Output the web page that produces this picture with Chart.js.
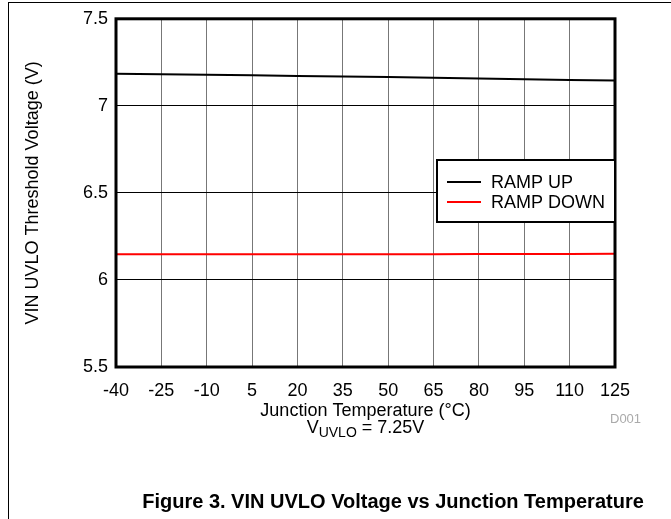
<!DOCTYPE html>
<html>
<head>
<meta charset="utf-8">
<script src="https://cdn.jsdelivr.net/npm/chart.js@4.4.1/dist/chart.umd.min.js"></script>
<style>
    html, body { margin: 0; padding: 0; background: #fff; }
    #wrap { position: relative; width: 671px; height: 519px; }
    #frame { position: absolute; left: 8px; top: 2px; right: 0; bottom: 0; border-left: 1px solid #000; border-top: 1px solid #000; pointer-events: none; }
</style>
</head>
<body>
<div id="wrap">
    <canvas id="uvloChart" width="671" height="519"></canvas>
    <div id="frame"></div>
</div>
<script>
    // Chart data
    const temps = [-40, -25, -10, 5, 20, 35, 50, 65, 80, 95, 110, 125];
    const rampUp = [7.185, 7.182, 7.179, 7.176, 7.172, 7.169, 7.165, 7.161, 7.157, 7.153, 7.149, 7.146];
    const rampDown = [6.147, 6.147, 6.147, 6.147, 6.148, 6.148, 6.148, 6.148, 6.149, 6.149, 6.149, 6.150];
    const seriesLabels = ['RAMP UP', 'RAMP DOWN'];
    const seriesColors = ['#000000', '#ff0000'];

    const FONT = 'Arial, "Liberation Sans", sans-serif';

    function toPoints(values) {
        return temps.map((t, i) => ({ x: t, y: values[i] }));
    }

    // Thick frame, legend box and extra text
    const decorations = {
        id: 'decorations',
        afterDraw(chart) {
            const ctx = chart.ctx;
            const a = chart.chartArea;
            ctx.save();

            // plot frame
            ctx.strokeStyle = '#000';
            ctx.lineWidth = 3;
            ctx.strokeRect(a.left, a.top, a.right - a.left, a.bottom - a.top);

            // legend
            const lx = 437, ly = 160, lw = a.right - 437, lh = 62;
            ctx.fillStyle = '#fff';
            ctx.fillRect(lx, ly, lw, lh);
            ctx.lineWidth = 2;
            ctx.strokeRect(lx, ly, lw, lh);
            ctx.font = '18px ' + FONT;
            ctx.textBaseline = 'middle';
            chart.data.datasets.forEach((ds, i) => {
                const y = 182 + i * 20;
                ctx.strokeStyle = ds.borderColor;
                ctx.lineWidth = 2;
                ctx.beginPath();
                ctx.moveTo(447, y);
                ctx.lineTo(481, y);
                ctx.stroke();
                ctx.fillStyle = '#000';
                ctx.textAlign = 'left';
                ctx.fillText(ds.label, 491, y + 1);
            });

            // axis titles
            ctx.fillStyle = '#000';
            ctx.textAlign = 'center';
            ctx.font = '18px ' + FONT;
            ctx.fillText('Junction Temperature (\u00B0C)', (a.left + a.right) / 2, 411);

            // V_UVLO = 7.25V with subscript
            const vW = ctx.measureText('V').width;
            ctx.font = '14px ' + FONT;
            const subW = ctx.measureText('UVLO').width;
            ctx.font = '18px ' + FONT;
            const restW = ctx.measureText(' = 7.25V').width;
            let sx = (a.left + a.right) / 2 - (vW + subW + restW) / 2;
            ctx.textAlign = 'left';
            ctx.fillText('V', sx, 428);
            ctx.font = '14px ' + FONT;
            ctx.fillText('UVLO', sx + vW, 433);
            ctx.font = '18px ' + FONT;
            ctx.fillText(' = 7.25V', sx + vW + subW, 428);

            ctx.save();
            ctx.translate(33, (a.top + a.bottom) / 2);
            ctx.rotate(-Math.PI / 2);
            ctx.textAlign = 'center';
            ctx.fillText('VIN UVLO Threshold Voltage (V)', 0, 0);
            ctx.restore();

            ctx.fillStyle = '#aaa';
            ctx.font = '13px ' + FONT;
            ctx.textAlign = 'left';
            ctx.fillText('D001', 610, 419);

            ctx.fillStyle = '#000';
            ctx.font = 'bold 20px ' + FONT;
            ctx.textAlign = 'center';
            ctx.fillText('Figure 3. VIN UVLO Voltage vs Junction Temperature', 393, 502);

            ctx.restore();
        }
    };

    const ctx = document.getElementById('uvloChart').getContext('2d');
    const uvloChart = new Chart(ctx, {
        type: 'line',
        data: {
            datasets: [{
                label: seriesLabels[0],
                data: toPoints(rampUp),
                borderColor: seriesColors[0],
                borderWidth: 2,
                pointRadius: 0,
                tension: 0
            }, {
                label: seriesLabels[1],
                data: toPoints(rampDown),
                borderColor: seriesColors[1],
                borderWidth: 2,
                pointRadius: 0,
                tension: 0
            }]
        },
        options: {
            responsive: false,
            animation: false,
            layout: {
                padding: { left: 0, top: 17, right: 56, bottom: 0 }
            },
            plugins: {
                legend: { display: false },
                tooltip: { enabled: false }
            },
            scales: {
                x: {
                    type: 'linear',
                    min: -40,
                    max: 125,
                    afterFit: function(scale) { scale.height = 152; },
                    ticks: {
                        stepSize: 15,
                        color: '#000',
                        padding: 13,
                        maxRotation: 0,
                        font: { family: FONT, size: 18 }
                    },
                    grid: { color: '#777', lineWidth: 1, drawTicks: false },
                    border: { display: false }
                },
                y: {
                    min: 5.5,
                    max: 7.5,
                    afterFit: function(scale) { scale.width = 116; },
                    ticks: {
                        stepSize: 0.5,
                        color: '#000',
                        padding: 8,
                        font: { family: FONT, size: 18 },
                        callback: function(value) { return value; }
                    },
                    grid: { color: '#000', lineWidth: 1, drawTicks: false },
                    border: { display: false }
                }
            }
        },
        plugins: [decorations]
    });
</script>
</body>
</html>
